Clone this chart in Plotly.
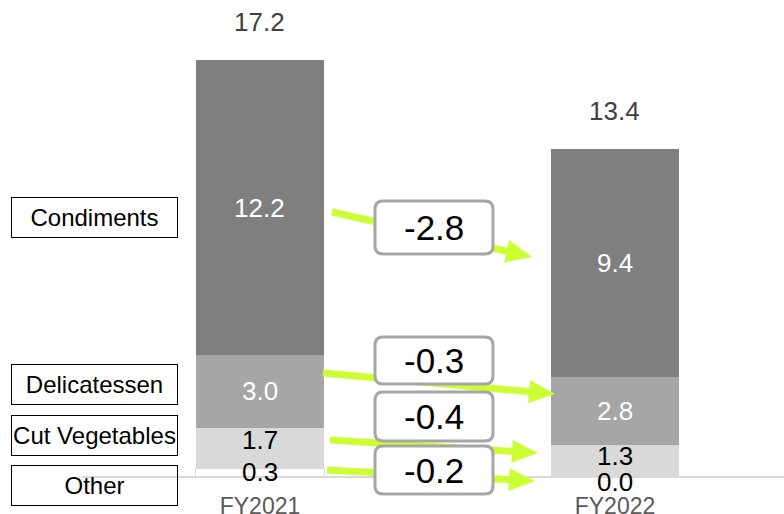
import math
import plotly.graph_objects as go

# ---- data -------------------------------------------------------------
periods = ["FY2021", "FY2022"]
segments = ["Other", "Cut Vegetables", "Delicatessen", "Condiments"]
other = [0.3, 0.0]
cut_vegetables = [1.7, 1.3]
delicatessen = [3.0, 2.8]
condiments = [12.2, 9.4]
totals = [17.2, 13.4]
changes = [-0.2, -0.4, -0.3, -2.8]          # same order as `segments`

# ---- styling ----------------------------------------------------------
FONT = "Liberation Sans, Arial, sans-serif"
seg_colors = ["#ffffff", "#d9d9d9", "#a6a6a6", "#7f7f7f"]
seg_text_colors = ["#000000", "#000000", "#ffffff", "#ffffff"]
# vertical nudges (px) of the in-bar value labels, per segment, per period
seg_label_shift = [[0, -6], [8, 4], [0, 0], [0, 0]]
ARROW = "#ccff33"
BOX_EDGE = "#a6a6a6"

W, H = 784, 514
ML, MR, MT, MB = 82, 0, 0, 38
PW, PH = W - ML - MR, H - MT - MB
X_RANGE = [-0.5014, 1.4761]
Y_RANGE = [0, 19.68]
BAR_W = 0.3606


def pxx(x):
    """pixel x -> paper x"""
    return (x - ML) / PW


def pxy(y):
    """pixel y -> paper y"""
    return (MT + PH - y) / PH


series = [other, cut_vegetables, delicatessen, condiments]

fig = go.Figure()
for name, vals, col in zip(segments, series, seg_colors):
    fig.add_trace(go.Bar(
        x=[0, 1], y=vals, name=name, width=BAR_W,
        marker=dict(color=col,
                    line=dict(color="#d9d9d9" if col == "#ffffff" else col,
                              width=1 if col == "#ffffff" else 0)),
        hoverinfo="skip",
    ))

annotations = []

# value labels inside the stacks
for i in range(len(periods)):
    base = 0.0
    for k, vals in enumerate(series):
        v = vals[i]
        annotations.append(dict(
            x=i, y=base + v / 2, xref="x", yref="y", text=f"{v:.1f}",
            showarrow=False, yanchor="middle",
            yshift=seg_label_shift[k][i],
            font=dict(family=FONT, size=26, color=seg_text_colors[k]),
        ))
        base += v
    # total above the stack
    annotations.append(dict(
        x=i, y=base, xref="x", yref="y", text=f"{totals[i]:.1f}",
        showarrow=False, yanchor="middle", yshift=38,
        font=dict(family=FONT, size=26, color="#404040"),
    ))

# category name boxes on the left (centre y in px)
name_box_y = {"Condiments": 217.5, "Delicatessen": 384.5,
              "Cut Vegetables": 435.5, "Other": 485.5}
for name in segments:
    annotations.append(dict(
        x=pxx(94.5), y=pxy(name_box_y[name]), xref="paper", yref="paper",
        text=name, showarrow=False, xanchor="center", yanchor="middle",
        width=165, height=39, borderpad=0, borderwidth=1,
        bordercolor="#000000", bgcolor="rgba(0,0,0,0)",
        font=dict(family=FONT, size=24, color="#000000"),
    ))

# change arrows (pixel start -> pixel tip) and change boxes
arrow_px = {
    "Condiments": ((332, 212), (532, 257)),
    "Delicatessen": ((323, 373), (555, 394)),
    "Cut Vegetables": ((330, 440), (538, 453)),
    "Other": ((327, 470), (535, 481)),
}
change_box_px = {          # x0, y0, x1, y1
    "Condiments": (375, 201, 493, 254),
    "Delicatessen": (375, 337, 493, 384),
    "Cut Vegetables": (375, 392, 493, 441),
    "Other": (375, 446, 493, 494),
}

shapes = []
HEAD_L, HEAD_HW, LINE_W = 26, 11.5, 7
for name in segments:
    (sx, sy), (tx, ty) = arrow_px[name]
    dx, dy = tx - sx, ty - sy
    d = math.hypot(dx, dy)
    ux, uy = dx / d, dy / d
    nx, ny = -uy, ux
    bx, by = tx - HEAD_L * ux, ty - HEAD_L * uy
    shapes.append(dict(
        type="line", xref="paper", yref="paper",
        x0=pxx(sx), y0=pxy(sy), x1=pxx(bx + 2 * ux), y1=pxy(by + 2 * uy),
        line=dict(color=ARROW, width=LINE_W),
    ))
    pts = [(tx, ty), (bx + HEAD_HW * nx, by + HEAD_HW * ny),
           (bx - HEAD_HW * nx, by - HEAD_HW * ny)]
    path = "M " + " L ".join(f"{pxx(a):.5f},{pxy(b):.5f}" for a, b in pts) + " Z"
    shapes.append(dict(
        type="path", xref="paper", yref="paper", path=path,
        fillcolor=ARROW, line=dict(color=ARROW, width=0),
    ))


def rounded_rect(x0, y0, x1, y1, r):
    p = [
        ("M", (x0 + r, y0)), ("L", (x1 - r, y0)), ("Q", (x1, y0), (x1, y0 + r)),
        ("L", (x1, y1 - r)), ("Q", (x1, y1), (x1 - r, y1)),
        ("L", (x0 + r, y1)), ("Q", (x0, y1), (x0, y1 - r)),
        ("L", (x0, y0 + r)), ("Q", (x0, y0), (x0 + r, y0)),
    ]
    out = []
    for seg in p:
        cmd, *cs = seg
        out.append(cmd + " " + " ".join(f"{pxx(a):.5f},{pxy(b):.5f}" for a, b in cs))
    return " ".join(out) + " Z"


for name, chg in zip(segments, changes):
    x0, y0, x1, y1 = change_box_px[name]
    shapes.append(dict(
        type="path", xref="paper", yref="paper",
        path=rounded_rect(x0, y0, x1, y1, 8),
        fillcolor="#ffffff", line=dict(color=BOX_EDGE, width=3),
    ))
    annotations.append(dict(
        x=pxx((x0 + x1) / 2), y=pxy((y0 + y1) / 2), xref="paper", yref="paper",
        text=f"{chg:.1f}", showarrow=False, xanchor="center", yanchor="middle",
        font=dict(family=FONT, size=35, color="#000000"),
    ))

fig.update_layout(
    barmode="stack",
    width=W, height=H,
    margin=dict(l=ML, r=MR, t=MT, b=MB, pad=0, autoexpand=False),
    paper_bgcolor="#ffffff", plot_bgcolor="#ffffff",
    showlegend=False,
    font=dict(family=FONT),
    xaxis=dict(
        range=X_RANGE, tickvals=[0, 1], ticktext=periods,
        showgrid=False, zeroline=False, showline=True,
        linecolor="#d9d9d9", linewidth=2, automargin=False,
        ticks="outside", ticklen=8, tickcolor="rgba(0,0,0,0)",
        tickfont=dict(family=FONT, size=23, color="#595959"),
        fixedrange=True,
    ),
    yaxis=dict(range=Y_RANGE, visible=False, fixedrange=True),
    shapes=shapes,
    annotations=annotations,
)

fig.write_html("out.html")
